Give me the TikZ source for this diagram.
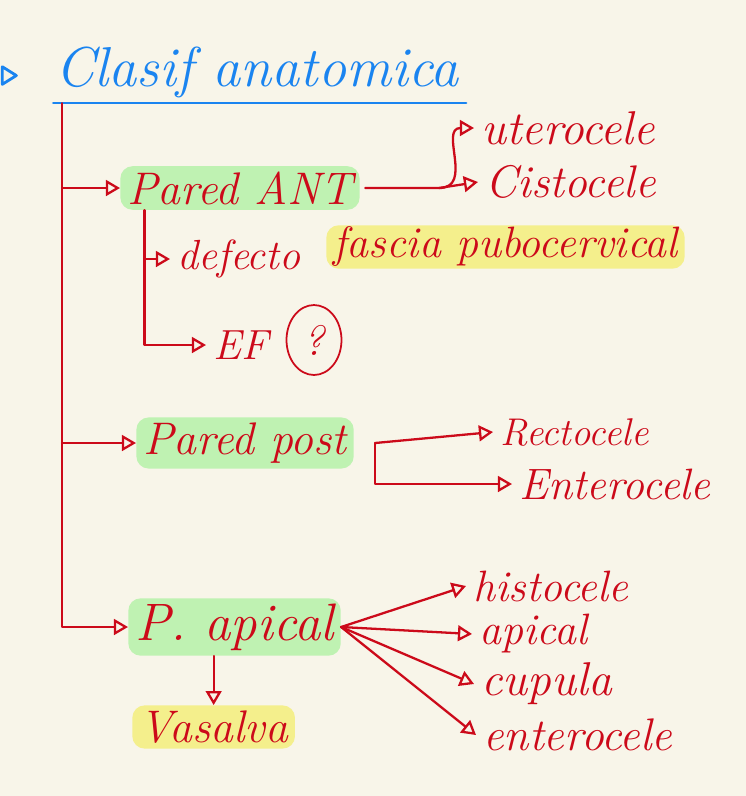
\documentclass[tikz,border=0pt]{standalone}
\usepackage{xcolor}
\usepackage{tikz}
\usetikzlibrary{shapes.geometric, arrows.meta, positioning}
\definecolor{paper}{HTML}{F8F5E9}
\definecolor{inkblue}{HTML}{1A84F0}
\definecolor{inkred}{HTML}{CC0A1A}
\definecolor{hlgreen}{HTML}{BFF2B2}
\definecolor{hlyellow}{HTML}{F4EF8C}
\newcommand{\hw}[1]{\fontsize{#1}{#1}\selectfont\itshape}
\tikzset{
  word/.style={
    text=inkred,
    anchor=west,
    inner xsep=4pt,
    inner ysep=3pt,
  },
  fanword/.style={
    word,
    inner ysep=0pt,
  },
  greenmark/.style={
    word,
    fill=hlgreen,
    rounded corners=7pt,
  },
  yellowmark/.style={
    word,
    fill=hlyellow,
    rounded corners=7pt,
  },
  arrow/.style={
    -{Triangle[open, length=8pt, width=9pt]},
    draw=inkred,
    line width=1.3pt,
    line cap=round,
    line join=round
  }
}
\begin{document}
\begin{tikzpicture}[x=0.02cm, y=-0.02cm]
  \fill [paper] (0,0) rectangle (746,796);
  \useasboundingbox (0,0) rectangle (746,796);

  % Title
  \node [word, text=inkblue, font=\hw{32}] (title) at (48,72) {Clasif anatomica};
  \draw [inkblue, line width=1.5pt, line cap=round]
        ([xshift=3pt]title.south west) -- (title.south east);
  \draw [inkblue, line width=1.6pt, line cap=round, line join=round]
        ([xshift=-26pt, yshift=3pt]title.west) -- ++(8pt,-5pt) -- ++(-8pt,-5pt) -- cycle;

  % Three walls
  \node [greenmark, font=\hw{26}] (pant)    at (120,188) {Pared ANT};
  \node [greenmark, font=\hw{26}] (ppost)   at (136,443) {Pared post};
  \node [greenmark, font=\hw{30}] (papical) at (128,627) {P. apical};

  % Anterior
  \node [word, font=\hw{27}] (utero) at (474,128) {uterocele};
  \node [word, font=\hw{26}] (cisto) at (478,182) {Cistocele};
  \node [word, font=\hw{24}] (defecto) at (170,259) {defecto};
  \node [yellowmark, font=\hw{25}, inner ysep=1pt] (fascia) at (326,247) {fascia pubocervical};
  \node [word, font=\hw{24}] (ef) at (206,345) {EF};
  \node [ellipse, draw=inkred, line width=1pt, text=inkred, font=\hw{24},
         minimum width=1.1cm, minimum height=1.4cm] (doubt) at (314,340) {?};

  % Posterior
  \node [word, font=\hw{22}] (recto)   at (493,432) {Rectocele};
  \node [word, font=\hw{25}] (entero1) at (512,484) {Enterocele};

  % Apical
  \node [fanword, font=\hw{25}] (histo)   at (466,586) {histocele};
  \node [fanword, font=\hw{25}] (apical)  at (472,634) {apical};
  \node [fanword, font=\hw{27}] (cupula)  at (474,684) {cupula};
  \node [fanword, font=\hw{26}] (entero2) at (476,735) {enterocele};
  \node [yellowmark, font=\hw{26}] (vasalva) at (132,727) {Vasalva};

  % Trunk coordinates
  \coordinate (trunk)    at ([xshift=8pt]title.south west);
  \coordinate (antsub)   at ([xshift=14pt]pant.south west);
  \coordinate (antfork)  at ([xshift=45pt]pant.east);
  \coordinate (postfork) at ([xshift=12pt]ppost.east);

  % Main trunk
  \draw [arrow] (trunk) |- (papical.west);
  \draw [arrow] (trunk |- pant.west) -- (pant.west);
  \draw [arrow] (trunk |- ppost.west) -- (ppost.west);

  % Pared ANT branches
  \draw [arrow] ([xshift=3pt]pant.east) -- (antfork) -- (cisto.west);
  \draw [arrow] (antfork) to[out=0, in=180, looseness=1.3] (utero.west);
  \draw [arrow] (antsub) |- (ef.west);
  \draw [arrow] (antsub |- defecto.west) -- (defecto.west);

  % Pared post branches
  \draw [arrow] (postfork) -- (recto.west);
  \draw [arrow] (postfork) |- (entero1.west);

  % P. apical fan
  \draw [arrow] (papical.east) -- (histo.west);
  \draw [arrow] (papical.east) -- (apical.west);
  \draw [arrow] (papical.east) -- (cupula.west);
  \draw [arrow] (papical.east) -- (entero2.west);
  \draw [arrow] (vasalva.north |- papical.south) -- (vasalva.north);
\end{tikzpicture}
\end{document}
